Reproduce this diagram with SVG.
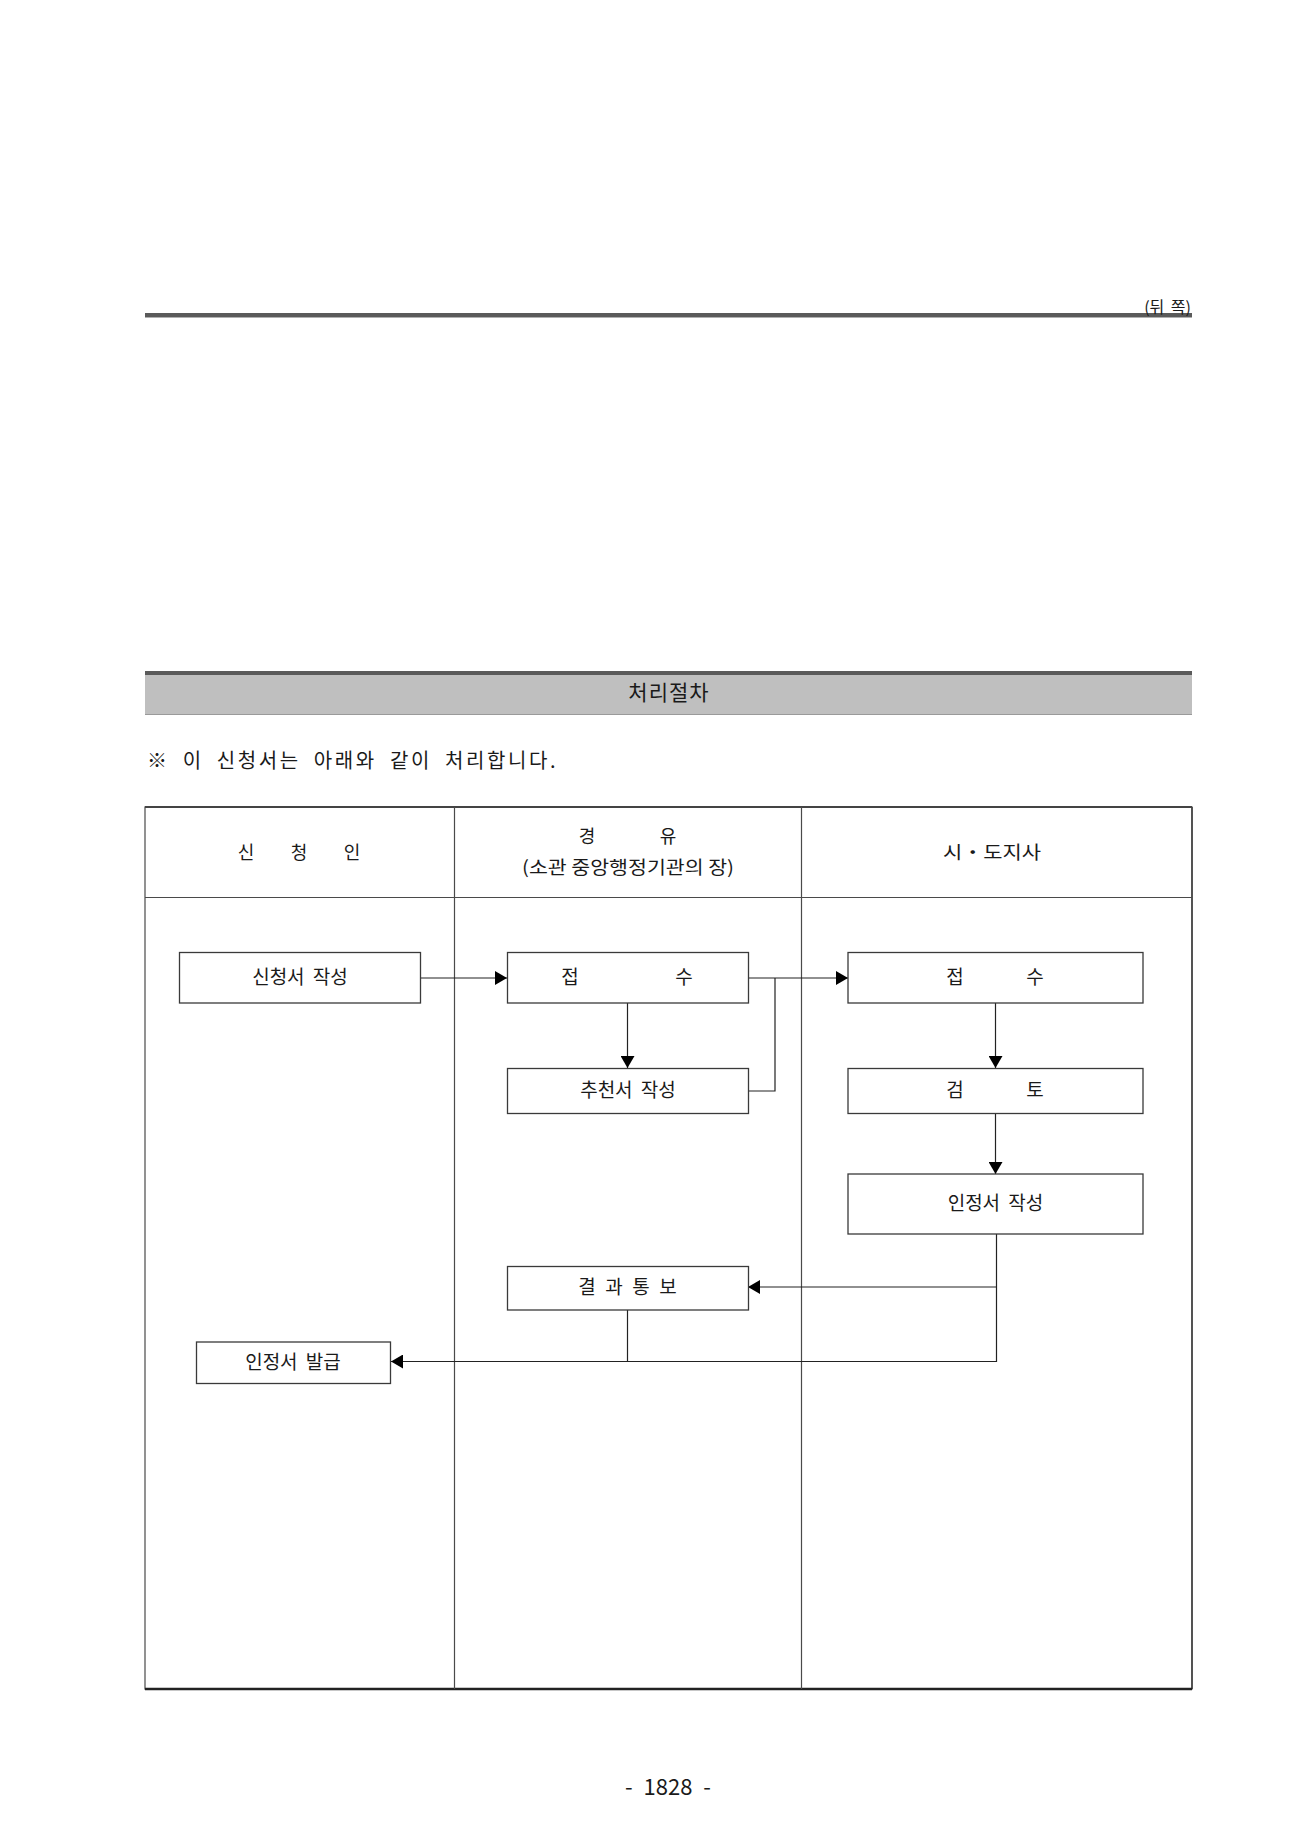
<svg xmlns="http://www.w3.org/2000/svg" width="1300" height="1837" viewBox="0 0 1300 1837">
<style>
  text { font-family: "Noto Sans CJK KR", "Noto Sans", sans-serif; fill: #1a1a1a; }
  .t18 { font-size: 18px; }
  .t19 { font-size: 19px; word-spacing: 4px; }
  .box { fill: #ffffff; stroke: #3a3a3a; stroke-width: 1.3; }
  .grid { stroke: #4a4a4a; stroke-width: 1.2; fill: none; }
  .conn { stroke: #222; stroke-width: 1.2; fill: none; }
</style>
<defs>
  <marker id="arr" viewBox="0 0 12 14" refX="12" refY="7" markerWidth="12" markerHeight="14" markerUnits="userSpaceOnUse" orient="auto">
    <path d="M0,0 L12,7 L0,14 z" fill="#000"/>
  </marker>
</defs>
<rect width="1300" height="1837" fill="#ffffff"/>

<!-- top rule -->
<rect x="145" y="313" width="1047" height="4" fill="#5a5a5a"/>
<rect x="145" y="317" width="1047" height="1" fill="#b0b0b0"/>
<text x="1191" y="313" text-anchor="end" font-size="16" word-spacing="3">(뒤 쪽)</text>

<!-- section header -->
<rect x="145" y="671" width="1047" height="4" fill="#5a5a5a"/>
<rect x="145" y="675" width="1047" height="39" fill="#bfbfbf"/>
<rect x="145" y="714" width="1047" height="1" fill="#9a9a9a"/>
<text x="669" y="700" text-anchor="middle" font-size="21" letter-spacing="1">처리절차</text>

<text x="147" y="768" font-size="20" letter-spacing="2.6" word-spacing="6">※ 이 신청서는 아래와 같이 처리합니다.</text>

<!-- table -->
<g id="table">
  <rect class="grid" x="145" y="807" width="1047" height="882"/>
  <line x1="145" y1="807" x2="1192" y2="807" stroke="#444" stroke-width="1.8"/>
  <line x1="1192" y1="807" x2="1192" y2="1689" stroke="#444" stroke-width="1.6"/>
  <line x1="145" y1="1689" x2="1192" y2="1689" stroke="#222" stroke-width="2.6"/>
  <line class="grid" x1="454.5" y1="807" x2="454.5" y2="1689"/>
  <line class="grid" x1="801.5" y1="807" x2="801.5" y2="1689"/>
  <line class="grid" x1="145" y1="897.5" x2="1192" y2="897.5"/>
</g>

<g id="header-applicant">
  <text class="t18" y="859" text-anchor="middle"><tspan x="246">신</tspan><tspan x="299">청</tspan><tspan x="352">인</tspan></text>
</g>
<g id="header-via">
  <text class="t18" y="843" text-anchor="middle"><tspan x="587">경</tspan><tspan x="668">유</tspan></text>
  <text class="t18" x="628" y="874" text-anchor="middle" textLength="212" lengthAdjust="spacingAndGlyphs">(소관 중앙행정기관의 장)</text>
</g>
<g id="header-city">
  <text class="t18" x="992" y="859" text-anchor="middle" textLength="98" lengthAdjust="spacingAndGlyphs">시・도지사</text>
</g>

<!-- connectors -->
<g id="connectors">
  <path class="conn" d="M420.5,978 H507" marker-end="url(#arr)"/>
  <path class="conn" d="M748,978 H848" marker-end="url(#arr)"/>
  <path class="conn" d="M748,1091 H775 V978"/>
  <path class="conn" d="M627.5,1003 V1068" marker-end="url(#arr)"/>
  <path class="conn" d="M995.5,1003 V1068" marker-end="url(#arr)"/>
  <path class="conn" d="M995.5,1114 V1174" marker-end="url(#arr)"/>
  <path class="conn" d="M996.5,1234 V1361.5 H391" marker-end="url(#arr)"/>
  <path class="conn" d="M996.5,1287 H748" marker-end="url(#arr)"/>
  <path class="conn" d="M627.5,1310 V1361.5"/>
</g>

<!-- nodes -->
<g id="n-apply">
  <rect class="box" x="179.5" y="952.5" width="241" height="50.5"/>
  <text class="t19" x="300" y="984" text-anchor="middle">신청서 작성</text>
</g>
<g id="n-receive-via">
  <rect class="box" x="507.5" y="952.5" width="241" height="50.5"/>
  <text class="t19" y="984" text-anchor="middle"><tspan x="570">접</tspan><tspan x="684">수</tspan></text>
</g>
<g id="n-recommend">
  <rect class="box" x="507.5" y="1068.5" width="241" height="45"/>
  <text class="t19" x="628" y="1097" text-anchor="middle">추천서 작성</text>
</g>
<g id="n-receive-city">
  <rect class="box" x="848" y="952.5" width="295" height="50.5"/>
  <text class="t19" y="984" text-anchor="middle"><tspan x="955">접</tspan><tspan x="1035">수</tspan></text>
</g>
<g id="n-review">
  <rect class="box" x="848" y="1068.5" width="295" height="45"/>
  <text class="t19" y="1097" text-anchor="middle"><tspan x="955">검</tspan><tspan x="1035">토</tspan></text>
</g>
<g id="n-certificate">
  <rect class="box" x="848" y="1174" width="295" height="60"/>
  <text class="t19" x="995.5" y="1210" text-anchor="middle">인정서 작성</text>
</g>
<g id="n-notify">
  <rect class="box" x="507.5" y="1266.5" width="241" height="43.5"/>
  <text class="t19" y="1294" text-anchor="middle"><tspan x="587">결</tspan><tspan x="614">과</tspan><tspan x="641">통</tspan><tspan x="668">보</tspan></text>
</g>
<g id="n-issue">
  <rect class="box" x="196.5" y="1342" width="194" height="41.5"/>
  <text class="t19" x="293" y="1369" text-anchor="middle">인정서 발급</text>
</g>

<text x="668" y="1795" text-anchor="middle" font-size="22" word-spacing="6">- 1828 -</text>
</svg>
